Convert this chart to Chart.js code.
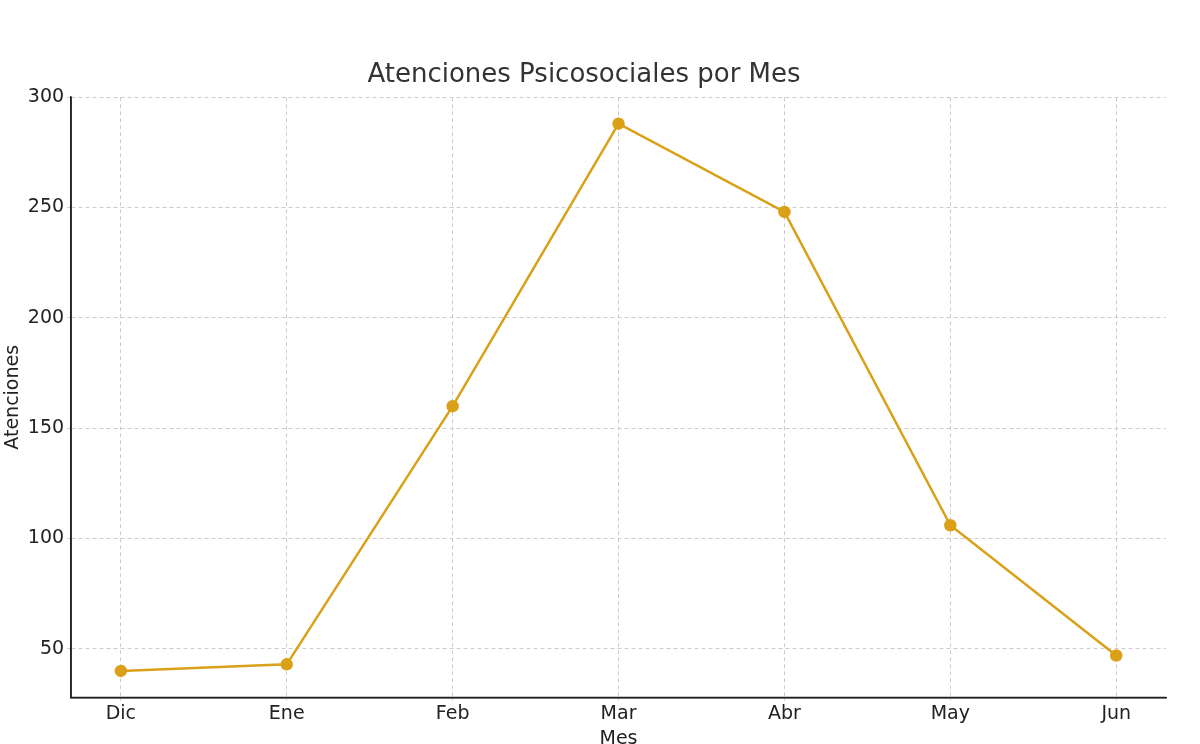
<!DOCTYPE html>
<html><head><meta charset="utf-8">
<script src="https://cdn.jsdelivr.net/npm/chart.js@4"></script>
<style>html,body{margin:0;padding:0;background:#fff}#w{width:1200px;height:744px}</style>
</head><body><div id="w"><canvas id="c"></canvas></div>
<script>
const categories = ["Dic","Ene","Feb","Mar","Abr","May","Jun"];
const values = [40, 43, 160, 288, 248, 106, 47];
const yTicks = [50, 100, 150, 200, 250, 300];
const F = "'DejaVu Sans', sans-serif";
new Chart(document.getElementById('c'), {
  type: 'line',
  data: { datasets: [{
    data: values.map((v,i)=>({x:i,y:v})),
    borderColor: '#DAA017', backgroundColor: '#DAA017',
    borderWidth: 2.5, pointRadius: 5, pointHoverRadius: 5, tension: 0
  }]},
  options: {
    responsive: true, maintainAspectRatio: false, animation: false,
    layout: { padding: { left: 2, right: 34, top: 60, bottom: -6 } },
    plugins: { legend: { display: false }, tooltip: { enabled: false },
      title: { display: true, text: 'Atenciones Psicosociales por Mes', color: '#333',
        font: { family: F, size: 26, weight: 'normal' }, padding: { top: 0, bottom: 6 } } },
    scales: {
      x: { type: 'linear', min: -0.3, max: 6.3,
        afterBuildTicks: s => { s.ticks = categories.map((_,i)=>({value:i})); },
        ticks: { callback: v => categories[v], color: '#222', font: { family: F, size: 19 }, padding: 2 },
        grid: { color: '#ccc', tickLength: 3, drawTicks: true },
        border: { color: '#222', width: 1.5, dash: [4,3] },
        title: { display: true, text: 'Mes', color: '#222', font: { family: F, size: 19 }, padding: { top: 0, bottom: 0 } } },
      y: { min: 28, max: 300,
        afterBuildTicks: s => { s.ticks = yTicks.map(v=>({value:v})); },
        ticks: { color: '#222', font: { family: F, size: 19 }, padding: 3 },
        grid: { color: '#ccc', tickLength: 4 },
        border: { color: '#222', width: 1.5, dash: [4,3] },
        title: { display: true, text: 'Atenciones', color: '#222', font: { family: F, size: 19 }, padding: { top: 0, bottom: 0 } } }
    }
  },
  plugins: [{ id: 'solidAxes', afterDraw(ch) {
    const a = ch.chartArea, c = ch.ctx;
    c.save(); c.strokeStyle = '#222'; c.lineWidth = 1.5; c.setLineDash([]);
    c.beginPath(); c.moveTo(a.left, a.top); c.lineTo(a.left, a.bottom); c.lineTo(a.right, a.bottom); c.stroke();
    c.restore();
  }}]
});
</script></body></html>
